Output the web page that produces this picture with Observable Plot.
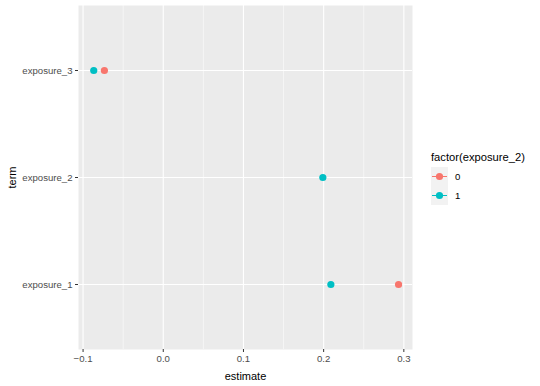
<!DOCTYPE html>
<html><head><meta charset="utf-8">
<script src="https://cdn.jsdelivr.net/npm/d3@7"></script>
<script src="https://cdn.jsdelivr.net/npm/@observablehq/plot@0.6"></script>
<style>
body{margin:0;background:#fff;font-family:"Liberation Sans",Arial,sans-serif;}
#wrap{display:flex;width:540px;height:386px;}
#legend{padding-left:11px;padding-top:151px;}
#legend .title{font-size:11.2px;color:#000;}
#legend .row{display:flex;align-items:center;height:19px;font-size:9.6px;color:#000;}
</style>
</head><body>
<div id="wrap"><div id="chart"></div><div id="legend"></div></div>
<script>
const terms = ["exposure_1","exposure_2","exposure_3"];
const groups = ["0","1"];
const colors = ["#F8766D","#00BFC4"];
// estimates per term
const termCol  = ["exposure_3","exposure_3","exposure_2","exposure_1","exposure_1"];
const groupCol = ["1","0","1","1","0"];
const estimate = [-0.0867,-0.0734,0.199,0.209,0.2934];
const xTicks = [-0.1,0.0,0.1,0.2,0.3];
const xMinor = [-0.05,0.05,0.15,0.25];

const data = estimate.map((e,i)=>({term:termCol[i],group:groupCol[i],estimate:e}));

const chart = Plot.plot({
  width: 420, height: 386,
  marginLeft: 78, marginRight: 8, marginTop: 5, marginBottom: 37,
  style:{fontFamily:"Liberation Sans, Arial, sans-serif", fontSize:"9.6px", background:"#fff"},
  x:{domain:[-0.1057,0.3108], ticks:xTicks, tickFormat:d3.format(".1f"), label:null},
  y:{type:"point", domain:[...terms].reverse(), padding:0.6, label:null},
  color:{domain:groups, range:colors},
  marks:[
    Plot.frame({fill:"#EBEBEB", stroke:null}),
    Plot.ruleX(xMinor,{stroke:"#fff", strokeWidth:0.55, strokeOpacity:1}),
    Plot.ruleX(xTicks,{stroke:"#fff", strokeWidth:1.1, strokeOpacity:1}),
    Plot.ruleY(terms,{y:d=>d, stroke:"#fff", strokeWidth:1.1, strokeOpacity:1}),
    Plot.axisX({ticks:xTicks, tickFormat:d3.format(".1f"), tickSize:3, tickPadding:3, stroke:"#333", color:"#4D4D4D", fontSize:9.6, label:"estimate", labelAnchor:"center", labelArrow:"none", labelOffset:30}),
    Plot.axisY({tickSize:3, tickPadding:3, stroke:"#333", color:"#4D4D4D", fontSize:9.6, label:"term", labelAnchor:"center", labelArrow:"none", labelOffset:70}),
    Plot.dot(data,{x:"estimate", y:"term", fill:"group", r:3.6, stroke:null})
  ]
});
chart.querySelectorAll('[aria-label="x-axis label"] text, [aria-label="y-axis label"] text').forEach(t=>{t.style.fontSize="11px";t.setAttribute("fill","#000");});
document.getElementById("chart").appendChild(chart);

const leg = document.getElementById("legend");
const title = document.createElement("div");
title.className="title"; title.textContent="factor(exposure_2)"; title.style.marginBottom="4px";
leg.appendChild(title);
groups.forEach((g,i)=>{
  const row=document.createElement("div"); row.className="row";
  row.innerHTML=`<svg width="17" height="19" style="margin-right:7px"><rect x="0" y="0" width="17" height="19" fill="#F2F2F2"/><line x1="1" x2="16" y1="9.5" y2="9.5" stroke="${colors[i]}" stroke-width="1"/><circle cx="8.5" cy="9.5" r="3.6" fill="${colors[i]}"/></svg><span>${g}</span>`;
  leg.appendChild(row);
});
</script>
</body></html>
